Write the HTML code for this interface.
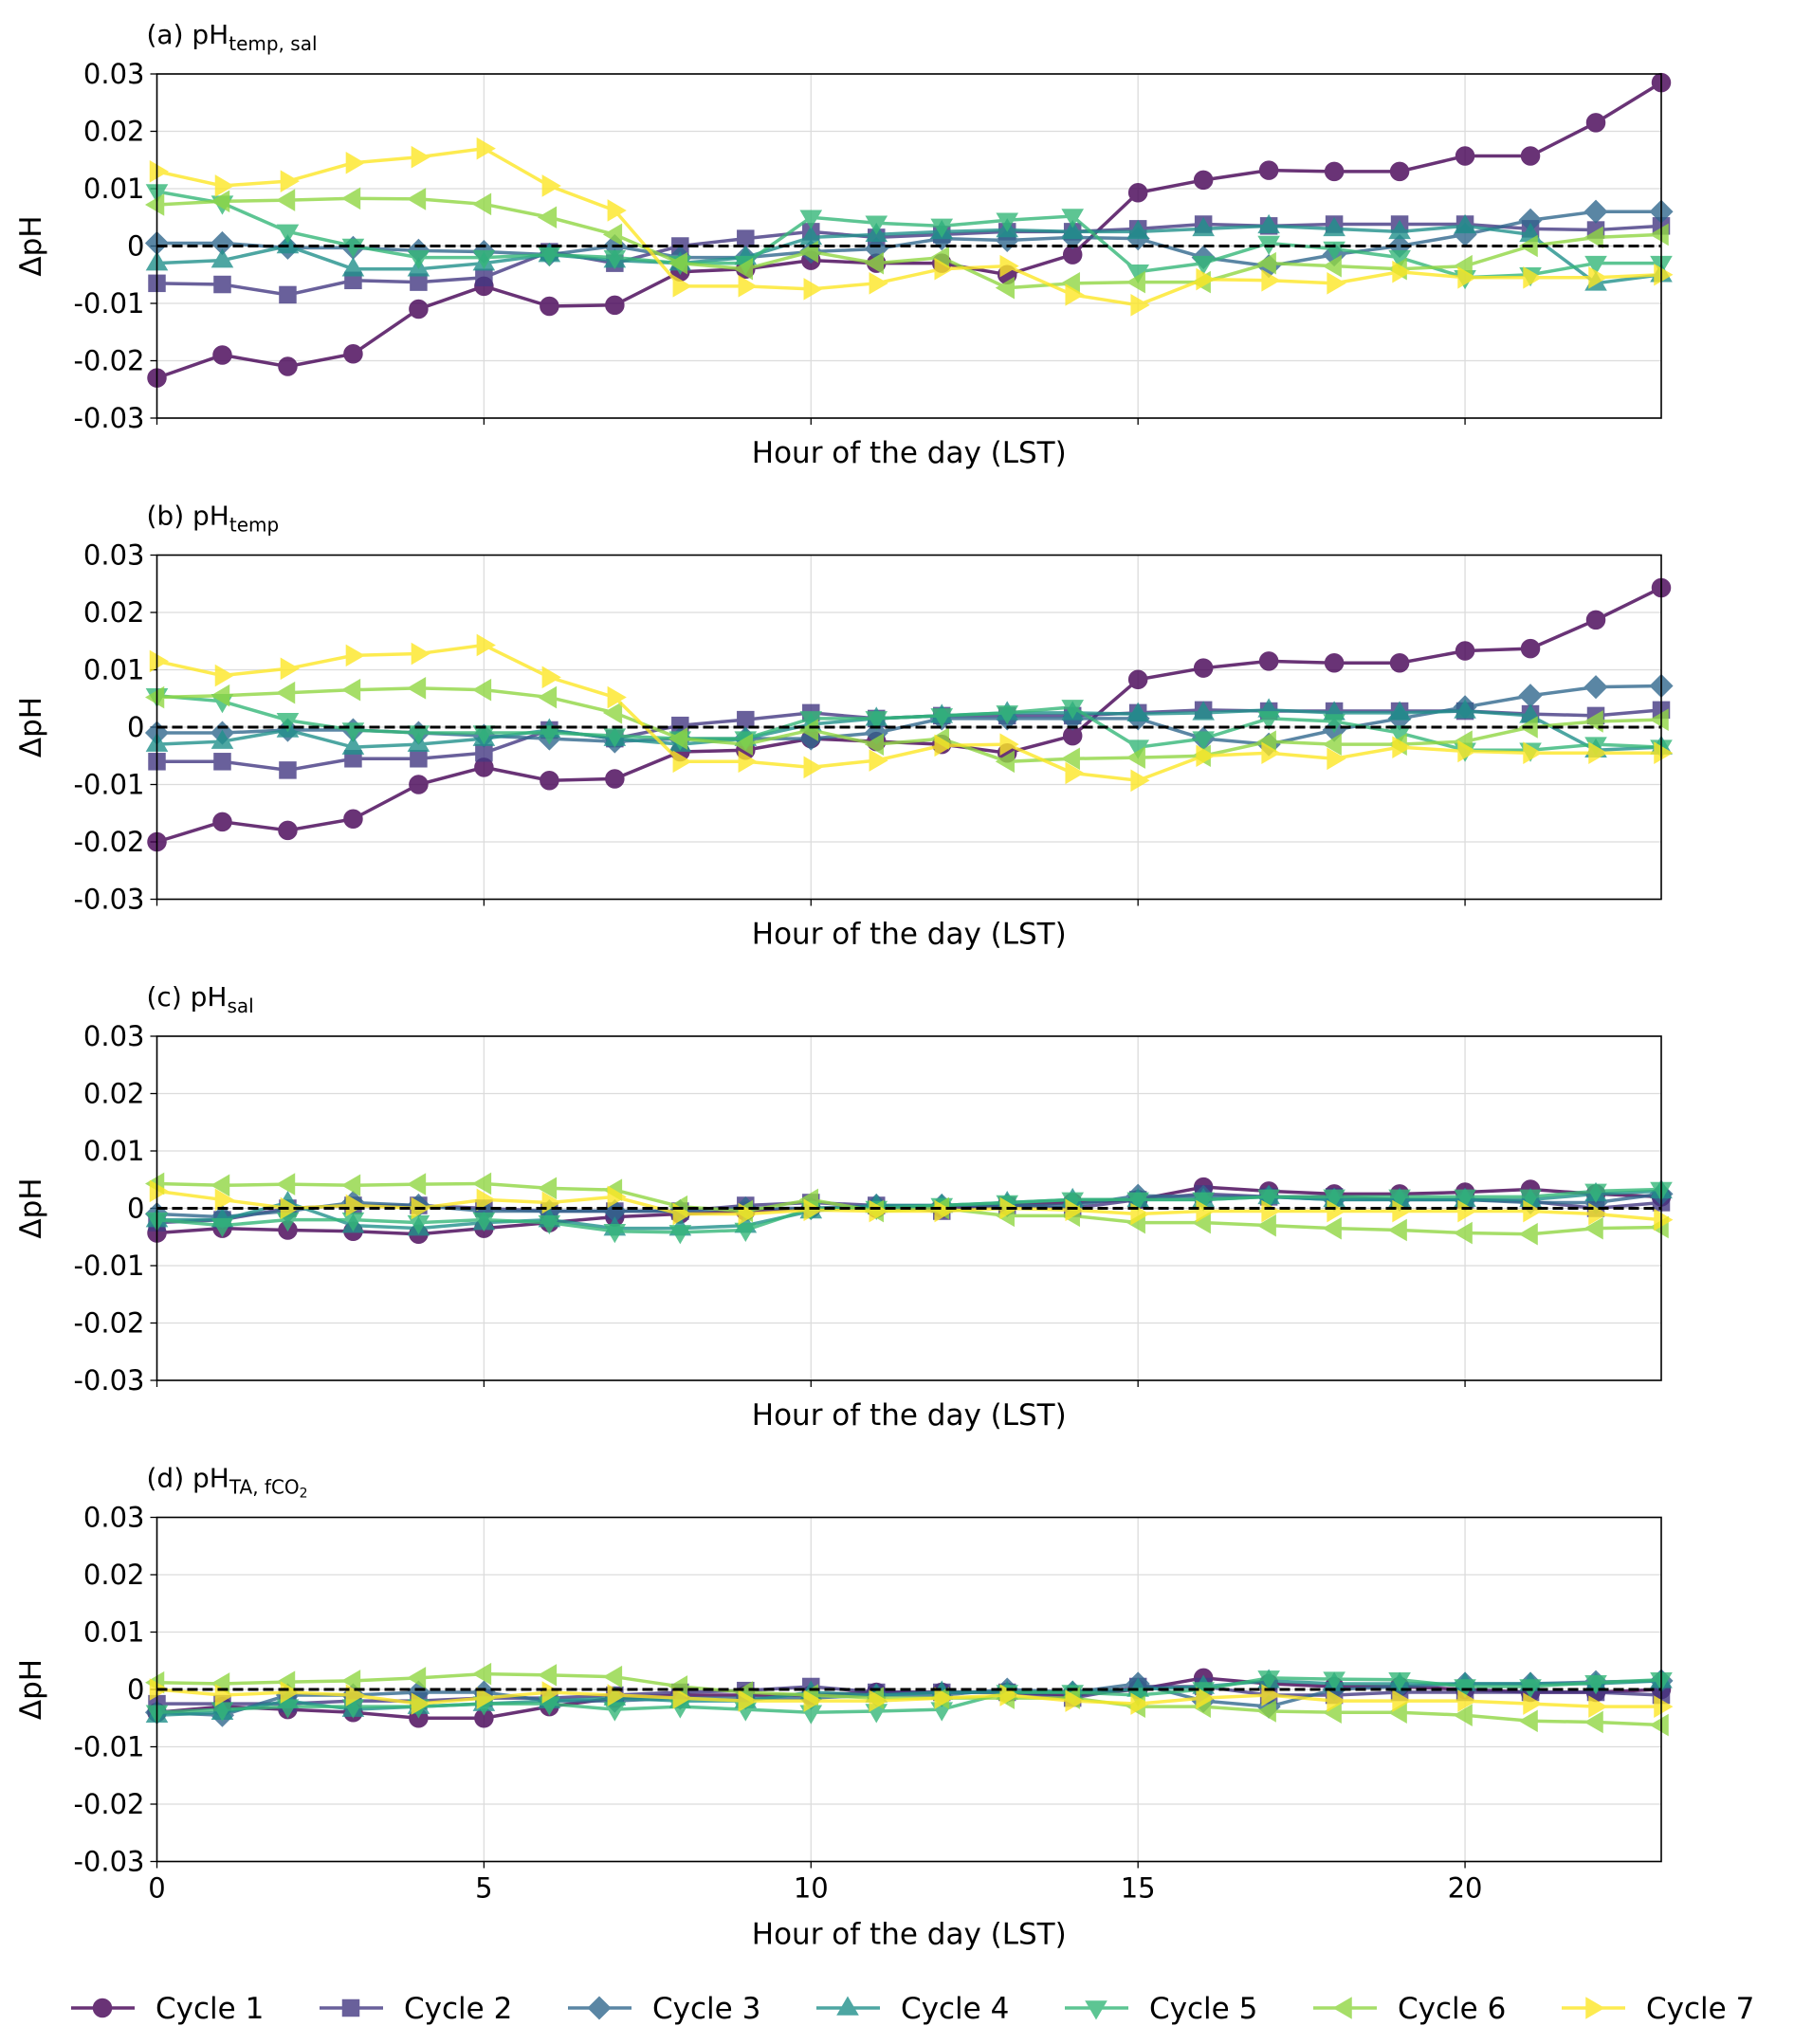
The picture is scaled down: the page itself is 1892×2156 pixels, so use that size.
<!DOCTYPE html>
<html><head><meta charset="utf-8"><style>
body{margin:0;background:#fff}
svg{display:block;font-family:"DejaVu Sans","Liberation Sans",sans-serif}
</style></head><body>
<svg id="chart" width="1892" height="2156" viewBox="0 0 1892 2156" xmlns="http://www.w3.org/2000/svg"></svg>
<script>
const hours = [0,1,2,3,4,5,6,7,8,9,10,11,12,13,14,15,16,17,18,19,20,21,22,23];
const yTicks = [0.03,0.02,0.01,0,-0.01,-0.02,-0.03];
const yTickLabels = ["0.03","0.02","0.01","0","-0.01","-0.02","-0.03"];
const xTicks = [0,5,10,15,20];
const cycleNames = ["Cycle 1","Cycle 2","Cycle 3","Cycle 4","Cycle 5","Cycle 6","Cycle 7"];
const panelA = [
[-0.023,-0.019,-0.021,-0.0188,-0.011,-0.007,-0.0105,-0.0103,-0.0045,-0.004,-0.0025,-0.003,-0.003,-0.005,-0.0015,0.0093,0.0115,0.0132,0.013,0.013,0.0157,0.0157,0.0215,0.0285],
[-0.0065,-0.0067,-0.0085,-0.006,-0.0063,-0.0055,-0.001,-0.003,0,0.0013,0.0025,0.0015,0.002,0.0025,0.0025,0.003,0.0038,0.0035,0.0038,0.0038,0.0038,0.003,0.0028,0.0035],
[0.0005,0.0005,-0.0003,-0.0003,-0.0008,-0.001,-0.0015,0,-0.002,-0.002,-0.001,-0.0005,0.0013,0.001,0.0015,0.0013,-0.002,-0.0035,-0.0015,0,0.002,0.0045,0.006,0.006],
[-0.003,-0.0025,0,-0.004,-0.004,-0.003,-0.0015,-0.0025,-0.003,-0.002,0.0015,0.002,0.0025,0.0028,0.0025,0.0025,0.003,0.0035,0.003,0.0025,0.0035,0.002,-0.0065,-0.005],
[0.0095,0.0075,0.0025,0,-0.002,-0.002,-0.0015,-0.002,-0.003,-0.003,0.005,0.004,0.0035,0.0045,0.0052,-0.0045,-0.003,0.0005,-0.0005,-0.002,-0.0055,-0.005,-0.003,-0.003],
[0.0072,0.0078,0.008,0.0083,0.0082,0.0073,0.005,0.002,-0.003,-0.004,-0.001,-0.003,-0.002,-0.0073,-0.0065,-0.0063,-0.0063,-0.003,-0.0035,-0.004,-0.0035,0,0.0015,0.002],
[0.013,0.0105,0.0113,0.0145,0.0155,0.017,0.0105,0.0062,-0.007,-0.007,-0.0075,-0.0065,-0.004,-0.0035,-0.0085,-0.0103,-0.0058,-0.006,-0.0065,-0.0045,-0.0055,-0.0055,-0.0055,-0.005]];
const panelB = [
[-0.02,-0.0165,-0.018,-0.016,-0.01,-0.007,-0.0093,-0.009,-0.0043,-0.004,-0.002,-0.0025,-0.003,-0.0045,-0.0015,0.0083,0.0103,0.0115,0.0112,0.0112,0.0133,0.0137,0.0187,0.0243],
[-0.006,-0.006,-0.0075,-0.0055,-0.0055,-0.0045,-0.0005,-0.002,0.0003,0.0013,0.0025,0.0015,0.002,0.002,0.002,0.0025,0.003,0.0028,0.0028,0.0028,0.0028,0.0023,0.002,0.003],
[-0.001,-0.001,-0.0005,-0.0005,-0.001,-0.0015,-0.002,-0.0025,-0.002,-0.002,-0.002,-0.001,0.0015,0.0015,0.0015,0.0015,-0.002,-0.003,-0.0005,0.0015,0.0035,0.0055,0.007,0.0072],
[-0.003,-0.0025,-0.0005,-0.0035,-0.003,-0.002,-0.0005,-0.002,-0.003,-0.002,0.0005,0.0015,0.002,0.0025,0.0025,0.0023,0.0025,0.003,0.0025,0.0025,0.0028,0.002,-0.004,-0.0035],
[0.0055,0.0045,0.0012,-0.0005,-0.001,-0.001,-0.001,-0.0015,-0.002,-0.002,0.0015,0.0015,0.002,0.0025,0.0035,-0.0035,-0.002,0.0015,0.001,-0.001,-0.004,-0.004,-0.003,-0.0035],
[0.0052,0.0055,0.006,0.0065,0.0068,0.0065,0.0052,0.0025,-0.002,-0.003,-0.0005,-0.003,-0.002,-0.006,-0.0055,-0.0053,-0.005,-0.0025,-0.003,-0.003,-0.0025,0,0.001,0.0013],
[0.0115,0.009,0.0102,0.0125,0.0128,0.0143,0.0087,0.0052,-0.006,-0.006,-0.007,-0.0058,-0.0032,-0.003,-0.008,-0.0093,-0.005,-0.0045,-0.0055,-0.0035,-0.0042,-0.0045,-0.0045,-0.0045]];
const panelC = [
[-0.0043,-0.0035,-0.0038,-0.004,-0.0045,-0.0035,-0.0025,-0.0015,-0.001,-0.0005,0,0,0,0.0005,0.001,0.0015,0.0037,0.003,0.0025,0.0025,0.0028,0.0033,0.0025,0.002],
[-0.0025,-0.002,0,0.0005,0.0005,0,-0.0005,-0.0005,-0.0005,0.0005,0.001,0.0005,-0.0005,0.0005,0,0.0015,0.0025,0.002,0.002,0.0015,0.0015,0.0012,0,0.001],
[-0.001,-0.0015,-0.0005,0.001,0.0005,-0.0005,-0.0005,-0.0005,-0.0005,0,0,0.0005,0.0005,0.0005,0.0005,0.0022,0.002,0.002,0.0015,0.0015,0.0015,0.001,0.001,0.0025],
[-0.002,-0.002,0.001,-0.003,-0.0035,-0.0025,-0.002,-0.0035,-0.0035,-0.003,-0.0005,0.0005,0.0005,0.001,0.0015,0.0015,0.0015,0.002,0.0015,0.0015,0.0015,0.0015,0.0025,0.003],
[-0.002,-0.003,-0.002,-0.002,-0.0025,-0.002,-0.0025,-0.004,-0.0042,-0.0038,0,0,0.0005,0.001,0.0015,0.0015,0.0015,0.002,0.002,0.002,0.002,0.002,0.003,0.0033],
[0.0043,0.004,0.0042,0.004,0.0042,0.0043,0.0035,0.0032,0.0003,-0.0005,0.0015,-0.0005,0,-0.0013,-0.0013,-0.0025,-0.0025,-0.003,-0.0035,-0.0038,-0.0043,-0.0045,-0.0035,-0.0033],
[0.003,0.0015,0,0.0005,0,0.0015,0.001,0.002,-0.001,-0.001,-0.0003,-0.0005,-0.0005,0,-0.0003,-0.001,-0.0005,-0.0005,-0.0005,-0.0005,-0.0005,-0.0005,-0.001,-0.002]];
const panelD = [
[-0.004,-0.003,-0.0035,-0.004,-0.005,-0.005,-0.003,-0.0015,-0.001,-0.001,-0.001,-0.0005,-0.0005,-0.0005,-0.001,0,0.002,0.001,0.0005,0.0005,0,-0.0005,-0.0005,0],
[-0.0025,-0.0025,-0.0025,-0.002,-0.002,-0.0015,-0.0015,-0.001,-0.0005,-0.0002,0.0005,-0.0005,-0.0005,-0.0005,-0.0015,0.0005,0.0005,-0.001,-0.001,-0.0005,-0.0005,-0.0005,-0.0005,-0.001],
[-0.004,-0.0045,-0.001,-0.001,-0.0005,-0.0005,-0.002,-0.002,-0.0015,-0.0015,-0.0015,-0.001,-0.001,0,-0.0005,0.001,-0.002,-0.003,0,0.0005,0.001,0.001,0.0013,0.0015],
[-0.0045,-0.004,-0.002,-0.0035,-0.003,-0.0025,-0.002,-0.0015,-0.002,-0.002,-0.0005,-0.001,-0.0005,-0.0005,-0.0005,0,0.0005,0.0015,0.001,0.001,0.001,0.001,0.001,0.0015],
[-0.004,-0.0035,-0.003,-0.003,-0.003,-0.0025,-0.0025,-0.0035,-0.003,-0.0035,-0.004,-0.0038,-0.0035,-0.0005,-0.0005,-0.001,0,0.002,0.0018,0.0017,0.0005,0.0005,0.0012,0.0017],
[0.0012,0.001,0.0013,0.0015,0.002,0.0027,0.0025,0.0022,0.0005,-0.0005,-0.001,-0.0015,-0.0015,-0.0015,-0.0015,-0.003,-0.003,-0.0038,-0.004,-0.004,-0.0045,-0.0055,-0.0057,-0.0062],
[0,-0.001,-0.0005,-0.001,-0.0025,-0.0015,-0.0005,-0.001,-0.0015,-0.002,-0.002,-0.002,-0.0015,-0.001,-0.002,-0.0025,-0.0015,-0.001,-0.002,-0.002,-0.002,-0.0025,-0.003,-0.003]];

const colors = ["#440154","#443983","#31688e","#21918c","#35b779","#90d743","#fde725"];
const shapes = ["circle","square","diamond","up","down","left","right"];
const NS = "http://www.w3.org/2000/svg";
const svg = document.getElementById("chart");
const X0 = 165.5, X1 = 1752;
const panels = [
 {top:78, data:panelA, title:["(a) pH","temp, sal"], name:"panel-a", xlab:false},
 {top:585.5, data:panelB, title:["(b) pH","temp"], name:"panel-b", xlab:false},
 {top:1093, data:panelC, title:["(c) pH","sal"], name:"panel-c", xlab:false},
 {top:1600.5, data:panelD, title:["(d) pH","TA, fCO"], name:"panel-d", xlab:true}];
const H = 363;
function xs(h){ return X0 + (h-0)/(23)*(X1-X0); }
function el(tag, attrs, parent){ const e=document.createElementNS(NS,tag); for(const k in attrs) e.setAttribute(k,attrs[k]); (parent||svg).appendChild(e); return e; }
function marker(g, shape, x, y, c){
  const r=9.5; let e;
  if(shape==="circle") e=el("circle",{cx:x,cy:y,r:r},g);
  else if(shape==="square") e=el("rect",{x:x-8.5,y:y-8.5,width:17,height:17},g);
  else { let p;
    if(shape==="diamond") p=[[x,y-11.5],[x+11.5,y],[x,y+11.5],[x-11.5,y]];
    if(shape==="up") p=[[x,y-11],[x+10.5,y+7],[x-10.5,y+7]];
    if(shape==="down") p=[[x,y+11],[x+10.5,y-7],[x-10.5,y-7]];
    if(shape==="left") p=[[x-11,y],[x+7,y-10.5],[x+7,y+10.5]];
    if(shape==="right") p=[[x+11,y],[x-7,y-10.5],[x-7,y+10.5]];
    e=el("polygon",{points:p.map(q=>q.join(",")).join(" ")},g); }
  e.setAttribute("fill",c); e.setAttribute("stroke",c); e.setAttribute("stroke-width","1.5");
  return e;
}
panels.forEach(P=>{
  const g=el("g",{});
  
  
  const ys=v=>P.top + (0.03 - v)/0.06*H;
  xTicks.forEach(t=>el("line",{x1:xs(t),x2:xs(t),y1:P.top,y2:P.top+H,stroke:"#dcdcdc","stroke-width":1.3},g));
  yTicks.forEach(t=>el("line",{x1:X0,x2:X1,y1:ys(t),y2:ys(t),stroke:"#dcdcdc","stroke-width":1.3},g));
  yTicks.forEach((t,i)=>{
    el("line",{x1:X0-7,x2:X0,y1:ys(t),y2:ys(t),stroke:"#000","stroke-width":1.3},g);
    const tx=el("text",{x:X0-13,y:ys(t)+10,"text-anchor":"end","font-size":29},g); tx.textContent=yTickLabels[i];
    
    
  });
  xTicks.forEach(t=>{
    el("line",{x1:xs(t),x2:xs(t),y1:P.top+H,y2:P.top+H+7,stroke:"#000","stroke-width":1.3},g);
    if(P.xlab){ const tx=el("text",{x:xs(t),y:P.top+H+38,"text-anchor":"middle","font-size":29},g); tx.textContent=String(t);
      
       }
  });
  const xl=el("text",{x:(X0+X1)/2,y:P.top+H+(P.xlab?87:47),"text-anchor":"middle","font-size":31},g);
  xl.textContent="Hour of the day (LST)";
  
  
  const yl=el("text",{x:0,y:0,"text-anchor":"middle","font-size":31,transform:`translate(43,${P.top+H/2}) rotate(-90)`},g);
  yl.textContent="ΔpH";
  
  
  const tt=el("text",{x:X0-11,y:P.top-32,"font-size":28},g);
  
  
  const t1=el("tspan",{},tt); t1.textContent=P.title[0];
  const t2=el("tspan",{dy:7,"font-size":20},tt); t2.textContent=P.title[1];
  if(P.name==="panel-d"){ const t3=el("tspan",{dy:4,"font-size":14},tt); t3.textContent="2"; }
  P.data.forEach((ser,ci)=>{
    const sg=el("g",{opacity:0.8},g);
    
    
    el("polyline",{points:ser.map((v,i)=>xs(hours[i])+","+ys(v)).join(" "),fill:"none",stroke:colors[ci],"stroke-width":3.5},sg);
    ser.forEach((v,i)=>{ const m=marker(sg,shapes[ci],xs(hours[i]),ys(v),colors[ci]);
      
       });
  });
  el("line",{x1:X0,x2:X1,y1:ys(0),y2:ys(0),stroke:"#000","stroke-width":3,"stroke-dasharray":"11,5"},g);
  el("rect",{x:X0,y:P.top,width:X1-X0,height:H,fill:"none",stroke:"#000","stroke-width":1.6},g);
});
const lg=el("g",{});


cycleNames.forEach((n,ci)=>{
  const x=75+ci*262, y=2118;
  const eg=el("g",{},lg);
  
  
  const sg=el("g",{opacity:0.8},eg);
  el("line",{x1:x,x2:x+67,y1:y,y2:y,stroke:colors[ci],"stroke-width":3.5},sg);
  marker(sg,shapes[ci],x+33,y,colors[ci]);
  const t=el("text",{x:x+89,y:y+11,"font-size":31},eg); t.textContent=n;
});
</script>
</body></html>
